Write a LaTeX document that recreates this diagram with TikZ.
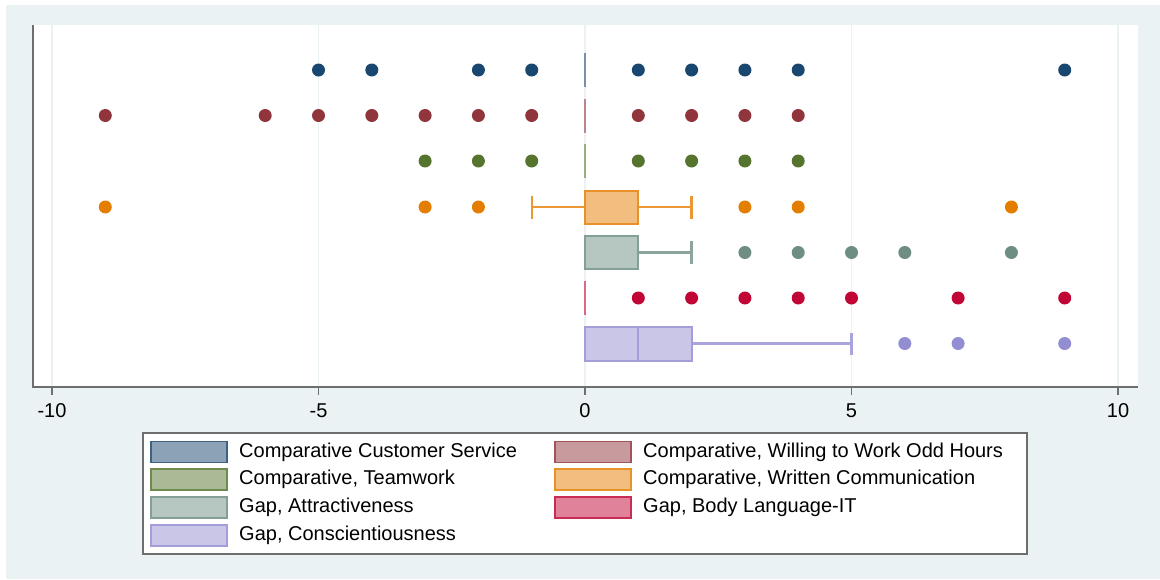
\documentclass[tikz,border=0pt]{standalone}
\usepackage{fontspec}
\setmainfont{Liberation Sans}
\definecolor{bgc}{HTML}{EAF2F3}
\definecolor{gridc}{HTML}{EAF2F3}
\definecolor{axisc}{HTML}{6E6E6E}
\definecolor{cnavy}{HTML}{1A476F}
\definecolor{cmaroon}{HTML}{90353B}
\definecolor{cgreen}{HTML}{55752F}
\definecolor{corange}{HTML}{E37E00}
\definecolor{cteal}{HTML}{6E8E84}
\definecolor{ccran}{HTML}{C10534}
\definecolor{clav}{HTML}{938DD2}
\tikzset{
  gridline/.style={gridc, line width=1.5pt},
  axisline/.style={axisc, line width=1.8pt},
  ticklab/.style={font=\fontsize{20}{24}\selectfont, text=black, inner sep=0pt},
  legtext/.style={font=\fontsize{20}{24}\selectfont, text=black, anchor=west, inner sep=0pt},
  legframe/.style={draw=axisc, fill=white, line width=1.8pt},
  swatch/.style={fill=#1!50!white, draw=#1!85!white, line width=1.6pt},
  boxst/.style={fill=#1!50!white, draw=#1!85!white, line width=2pt},
  whisk/.style={draw=#1!80!white, line width=2.3pt},
  degen/.style={draw=#1!60!white, line width=2.3pt},
  dot/.style={fill=#1},
}
\begin{document}
\begin{tikzpicture}[x=1pt,y=-1pt]
\useasboundingbox (0,0) rectangle (1160,579);
\fill[bgc] (6,5) rectangle (1160,579);
\fill[white] (33,25) rectangle (1138,387);
% grid
\foreach \v in {-10,-5,0,5,10}
  \draw[gridline] ({585+53.3*\v},25) -- ({585+53.3*\v},386);
% axes
\draw[axisline] (33,25) -- (33,387) -- (1138,387);
\foreach \v/\n in {-10/a,-5/b,0/c,5/d,10/e}{
  \draw[axisline] ({585+53.3*\v},387) -- ({585+53.3*\v},395);
  \node[ticklab] (tick\n) at ({585+53.3*\v},411) {\v};
}
\begin{scope}[shift={(585pt,0pt)}, x=53.3pt]
  % row 1: Customer Service
  \draw[degen=cnavy] (0,53) -- (0,87);
  \foreach \v in {-5,-4,-2,-1,1,2,3,4,9}
    \fill[dot=cnavy] (\v,70) circle[radius=6.5pt];
  % row 2: Willing to work odd hours
  \draw[degen=cmaroon] (0,98.5) -- (0,132.5);
  \foreach \v in {-9,-6,-5,-4,-3,-2,-1,1,2,3,4}
    \fill[dot=cmaroon] (\v,115.5) circle[radius=6.5pt];
  % row 3: Teamwork
  \draw[degen=cgreen] (0,144) -- (0,178);
  \foreach \v in {-3,-2,-1,1,2,3,4}
    \fill[dot=cgreen] (\v,161) circle[radius=6.5pt];
  % row 4: Written communication
  \draw[whisk=corange] (-1,207) -- (0,207) (1,207) -- (2,207)
     (-1,195.5) -- (-1,218.5) (2,195.5) -- (2,218.5);
  \filldraw[boxst=corange] (0,190.5) rectangle (1,223.5);
  \foreach \v in {-9,-3,-2,3,4,8}
    \fill[dot=corange] (\v,207) circle[radius=6.5pt];
  % row 5: Attractiveness
  \draw[whisk=cteal] (1,252.5) -- (2,252.5) (2,241) -- (2,264);
  \filldraw[boxst=cteal] (0,236) rectangle (1,269);
  \foreach \v in {3,4,5,6,8}
    \fill[dot=cteal] (\v,252.5) circle[radius=6.5pt];
  % row 6: Body language
  \draw[degen=ccran] (0,281) -- (0,315);
  \foreach \v in {1,2,3,4,5,7,9}
    \fill[dot=ccran] (\v,298) circle[radius=6.5pt];
  % row 7: Conscientiousness
  \draw[whisk=clav] (2,343.5) -- (5,343.5) (5,332.5) -- (5,355);
  \filldraw[boxst=clav] (0,327) rectangle (2,360.5);
  \draw[boxst=clav, fill=none] (1,327) -- (1,360.5);
  \foreach \v in {6,7,9}
    \fill[dot=clav] (\v,343.5) circle[radius=6.5pt];
\end{scope}
% legend
\draw[legframe] (143,433) rectangle (1027,554);
\foreach \c/\y/\t/\n in {cnavy/452/{Comparative Customer Service}/a,
                       cgreen/479.5/{Comparative, Teamwork}/b,
                       cteal/507.5/{Gap, Attractiveness}/c,
                       clav/535.5/{Gap, Conscientiousness}/d}{
  \draw[swatch=\c] (151,\y-10.5) rectangle (227,\y+10.5);
  \node[legtext] (legL\n) at (239,\y) {\t};
}
\foreach \c/\y/\t/\n in {cmaroon/452/{Comparative, Willing to Work Odd Hours}/a,
                       corange/479.5/{Comparative, Written Communication}/b,
                       ccran/507.5/{Gap, Body Language-IT}/c}{
  \draw[swatch=\c] (555,\y-10.5) rectangle (631,\y+10.5);
  \node[legtext] (legR\n) at (643,\y) {\t};
}
\end{tikzpicture}
\end{document}
